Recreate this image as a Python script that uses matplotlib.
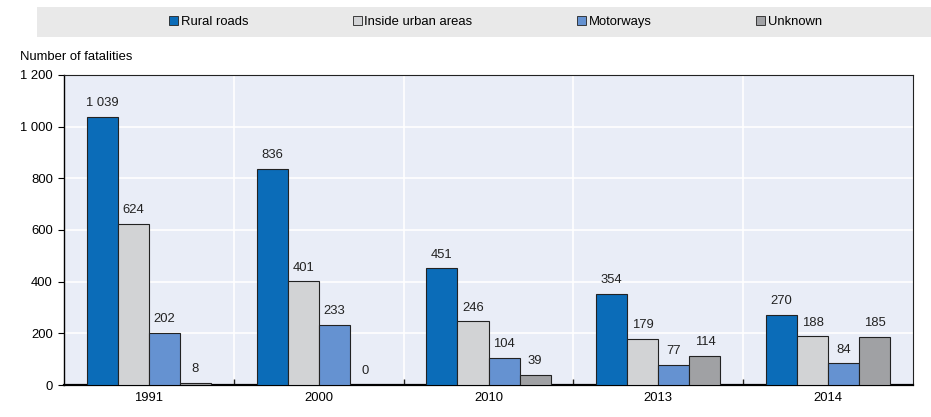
import matplotlib.pyplot as plt
import matplotlib.patches as mpatches
import numpy as np

years = ["1991", "2000", "2010", "2013", "2014"]
series = ["Rural roads", "Inside urban areas", "Motorways", "Unknown"]
rural = [1039, 836, 451, 354, 270]
urban = [624, 401, 246, 179, 188]
motorways = [202, 233, 104, 77, 84]
unknown = [8, 0, 39, 114, 185]
colors = ["#0b6cb8", "#d2d3d5", "#6592d1", "#a0a1a4"]

plt.rcParams['font.family'] = ['Liberation Sans Narrow', 'Liberation Sans', 'DejaVu Sans']
fs = 9.4

def fmt(v):
    return f"{v:,}".replace(",", " ")

fig = plt.figure(figsize=(9.31, 4.17), dpi=100)
ax = fig.add_axes([64 / 931, 1 - 385 / 417, (913 - 64) / 931, (385 - 75) / 417])
ax.set_facecolor("#e9edf7")

x = np.arange(len(years))
w = 0.183
data = [rural, urban, motorways, unknown]
for i, (vals, c, name) in enumerate(zip(data, colors, series)):
    pos = x + (i - 1.5) * w
    ax.bar(pos, vals, w, color=c, edgecolor="#222222", linewidth=0.8, label=name, zorder=3)
    for p, v in zip(pos, vals):
        ax.text(p, v + 30, fmt(v), ha="center", va="bottom", fontsize=fs, color="#222222", zorder=4)

ax.set_xlim(-0.5, len(years) - 0.5)
ax.set_ylim(0, 1200)
ax.set_yticks(range(0, 1201, 200))
ax.set_yticklabels([fmt(v) for v in range(0, 1201, 200)])
ax.set_xticks(x)
ax.set_xticklabels(years)
ax.set_xticks(np.arange(0.5, len(years) - 0.5, 1), minor=True)
ax.tick_params(axis="x", which="major", length=0, pad=5, labelsize=fs)
ax.tick_params(axis="x", which="minor", direction="in", length=4, width=1, color="#222222")
ax.tick_params(axis="y", length=4, width=0.8, pad=4, labelsize=fs)
ax.grid(axis="y", color="white", linewidth=1.2, zorder=1)
ax.grid(axis="x", which="minor", color="white", linewidth=1.2, zorder=1)
for s in ["top", "right"]:
    ax.spines[s].set_linewidth(0.8)
    ax.spines[s].set_color("#222222")
ax.spines["left"].set_linewidth(1.0)
ax.spines["bottom"].set_linewidth(1.6)

fig.text(20 / 931, 1 - 57 / 417, "Number of fatalities", ha="left", va="center", fontsize=fs)

# legend band
fig.patches.append(mpatches.Rectangle((37 / 931, 1 - 37 / 417), 1 - 37 / 931, 30 / 417,
                                      transform=fig.transFigure, facecolor="#e9e9e9",
                                      edgecolor="none", zorder=0))
handles = [mpatches.Patch(facecolor=c, edgecolor="#222222", linewidth=0.6) for c in colors]
fig.legend(handles, series, loc="center", bbox_to_anchor=(0.532, 1 - 22 / 417), ncol=4,
           frameon=False, handlelength=0.7, handleheight=0.7, handletextpad=0.2,
           columnspacing=8.0, fontsize=fs)

fig.savefig("out.png", dpi=100)
